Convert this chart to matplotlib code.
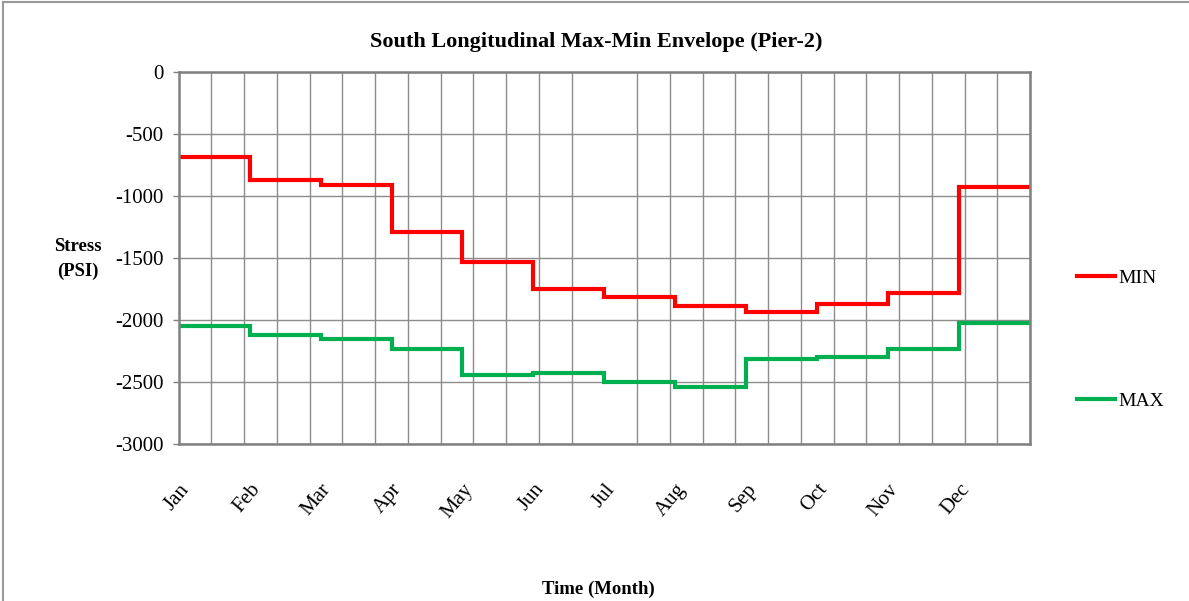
import matplotlib
matplotlib.use("Agg")
import matplotlib.pyplot as plt
from matplotlib.lines import Line2D
from matplotlib.ticker import FixedLocator
import numpy as np

months = ["Jan", "Feb", "Mar", "Apr", "May", "Jun",
          "Jul", "Aug", "Sep", "Oct", "Nov", "Dec"]
min_stress = [-690, -870, -910, -1290, -1530, -1750,
              -1815, -1890, -1935, -1870, -1785, -930]
max_stress = [-2048, -2118, -2153, -2236, -2444, -2430,
              -2500, -2543, -2317, -2298, -2234, -2027]
y_ticks = [0, -500, -1000, -1500, -2000, -2500, -3000]

plt.rcParams["font.family"] = ["Liberation Serif", "DejaVu Serif"]

W, H = 1189, 601
fig = plt.figure(figsize=(W / 100, H / 100), dpi=100)
ax = fig.add_axes([178.7 / W, 1 - 444 / H, (1030 - 178.7) / W, (444 - 71.7) / H])

# step series: each month holds its value until the next month begins
x = np.arange(len(months) + 1)
ax.plot(x, min_stress + [min_stress[-1]], drawstyle="steps-post",
        color="#ff0000", lw=3.0, label="MIN", solid_joinstyle="miter")
ax.plot(x, max_stress + [max_stress[-1]], drawstyle="steps-post",
        color="#00b050", lw=3.0, label="MAX", solid_joinstyle="miter")

ax.set_xlim(0, len(months))
ax.set_ylim(-3000, 0)
ax.set_yticks(y_ticks)
ax.set_yticklabels([str(v) for v in y_ticks], fontsize=15)
ax.set_xticks(np.arange(len(months)))
ax.set_xticklabels(months, rotation=50, ha="right", va="top",
                   rotation_mode="anchor", fontsize=15)
ax.xaxis.set_minor_locator(FixedLocator(np.arange(27) * len(months) / 26))

ax.grid(True, axis="y", which="major", color="#8c8c8c", lw=1.0)
ax.grid(True, axis="x", which="minor", color="#8c8c8c", lw=1.0)
ax.set_axisbelow(True)
ax.tick_params(axis="y", which="major", length=4, width=1.0, color="#808080", pad=7)
ax.tick_params(axis="x", which="major", length=0, pad=26)
ax.tick_params(axis="x", which="minor", length=0)
for s in ax.spines.values():
    s.set_color("#808080")
    s.set_linewidth(1.8)

fig.text(596 / W, 1 - 42 / H, "South Longitudinal Max-Min Envelope (Pier-2)",
         ha="center", va="center", fontsize=16, fontweight="bold")
fig.text(78 / W, 1 - 259 / H, "Stress\n(PSI)", ha="center", va="center",
         fontsize=13.5, fontweight="bold", linespacing=1.55)
fig.text(598 / W, 1 - 589 / H, "Time (Month)", ha="center", va="center",
         fontsize=13.5, fontweight="bold")

leg = fig.legend(loc="upper left", bbox_to_anchor=(1059 / W, 1 - 252 / H),
                 frameon=False, fontsize=14, handlelength=2.0,
                 handletextpad=0.15, labelspacing=5.4)

# outer chart frame
fig.add_artist(Line2D([2.5 / W, 2.5 / W], [0, 1 - 1.5 / H], color="#999999", lw=1.5))
fig.add_artist(Line2D([2.5 / W, 1], [1 - 1.5 / H, 1 - 1.5 / H], color="#999999", lw=1.5))

fig.savefig("out.png", dpi=100)
